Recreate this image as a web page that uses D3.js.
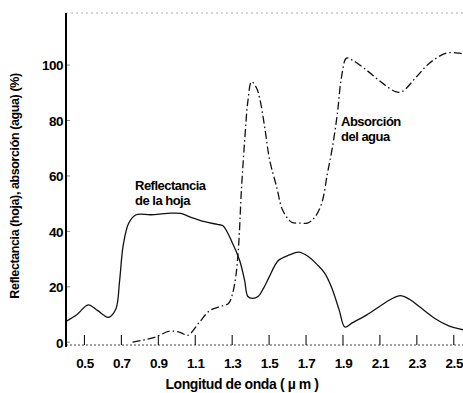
<!DOCTYPE html>
<html>
<head>
<meta charset="utf-8">
<script src="https://cdn.jsdelivr.net/npm/d3@7"></script>
<style>
  body { margin: 0; background: #fff; }
  text { font-family: "Liberation Sans", Arial, sans-serif; font-weight: bold; fill: #000; }
</style>
</head>
<body>
<svg id="chart" width="463" height="393"></svg>
<script>
// Leaf reflectance (%)
const reflWl  = [0.40, 0.46, 0.52, 0.57, 0.63, 0.67, 0.69, 0.71, 0.74, 0.78, 0.86, 0.95, 1.02, 1.08, 1.15, 1.22, 1.25, 1.30, 1.34, 1.367, 1.385, 1.41, 1.44, 1.47, 1.50, 1.55, 1.61, 1.66, 1.71, 1.76, 1.80, 1.84, 1.88, 1.91, 1.95, 2.02, 2.10, 2.16, 2.21, 2.26, 2.32, 2.40, 2.47, 2.55];
const reflVal = [7.5, 10, 13.5, 11.5, 9, 12, 22, 35, 43, 46, 46, 46.5, 46.5, 45, 43.5, 42.5, 42, 36, 29.6, 22.4, 16.5, 15.8, 16.5, 19.5, 23.5, 29.5, 31.5, 32.5, 31, 28, 25, 19.5, 11.5, 5.5, 7, 9.5, 13, 15.5, 16.8, 15.5, 12.5, 8.5, 6, 4.5];

// Water absorption (%)
const waterWl  = [0.76, 0.82, 0.89, 0.96, 1.02, 1.06, 1.12, 1.18, 1.24, 1.28, 1.30, 1.32, 1.335, 1.35, 1.37, 1.385, 1.405, 1.43, 1.449, 1.476, 1.503, 1.541, 1.573, 1.622, 1.665, 1.708, 1.746, 1.784, 1.816, 1.843, 1.870, 1.892, 1.919, 1.951, 2.027, 2.114, 2.189, 2.222, 2.297, 2.368, 2.459, 2.53, 2.55];
const waterVal = [0, 0.8, 2, 4, 3.5, 2.5, 7, 11.5, 13, 14, 17, 24, 35, 55, 75, 87, 94, 92, 88, 77.6, 65.7, 56, 47.7, 43.3, 43, 43, 45, 50, 61, 70.4, 82.7, 95.7, 102.5, 101.8, 98.2, 93.5, 90.3, 90.5, 95.7, 100.7, 104.3, 104.3, 104];

const xTicks = [0.5, 0.7, 0.9, 1.1, 1.3, 1.5, 1.7, 1.9, 2.1, 2.3, 2.5];
const yTicks = [0, 20, 40, 60, 80, 100];

const svg = d3.select('#chart');
const x = d3.scaleLinear().domain([0.4, 2.55]).range([66, 463]);
const y = d3.scaleLinear().domain([-1, 118.8]).range([345, 13]);

// Frame: faint dotted top, dotted bottom, solid left axis
svg.append('line').attr('x1', 66).attr('x2', 463).attr('y1', 13).attr('y2', 13)
  .attr('stroke', '#999').attr('stroke-width', 0.8).attr('stroke-dasharray', '2,3');
svg.append('line').attr('x1', 66).attr('x2', 463).attr('y1', 345).attr('y2', 345)
  .attr('stroke', '#444').attr('stroke-width', 1).attr('stroke-dasharray', '2,2');
svg.append('line').attr('x1', 66).attr('x2', 66).attr('y1', 13).attr('y2', 347)
  .attr('stroke', '#000').attr('stroke-width', 2);

// X axis ticks + labels
const xAxis = d3.axisBottom(x).tickValues(xTicks).tickSize(0).tickPadding(0).tickFormat(d3.format('.1f'));
const gx = svg.append('g').attr('transform', 'translate(0,345)').call(xAxis);
gx.select('.domain').remove();
gx.selectAll('text').attr('dy', 0).attr('y', 23).attr('font-size', 13.5)
  .attr('font-family', '"Liberation Sans", Arial, sans-serif').attr('font-weight', 'bold').attr('fill', '#000')
  .attr('letter-spacing', -0.4);
svg.append('g').selectAll('line').data(xTicks).enter().append('line')
  .attr('x1', d => x(d)).attr('x2', d => x(d)).attr('y1', 335).attr('y2', 345)
  .attr('stroke', '#111').attr('stroke-width', 1.1);

// Y axis labels + tiny inward ticks
const yAxis = d3.axisLeft(y).tickValues(yTicks).tickSize(0).tickPadding(0);
const gy = svg.append('g').attr('transform', 'translate(63,0)').call(yAxis);
gy.select('.domain').remove();
gy.selectAll('text').attr('x', 0).attr('dy', '0.36em').attr('font-size', 13.5)
  .attr('font-family', '"Liberation Sans", Arial, sans-serif').attr('font-weight', 'bold').attr('fill', '#000')
  .attr('letter-spacing', -0.5);
svg.append('g').selectAll('line').data(yTicks).enter().append('line')
  .attr('x1', 67).attr('x2', 70).attr('y1', d => y(d)).attr('y2', d => y(d))
  .attr('stroke', '#888').attr('stroke-width', 1);

// Curves
const line = d3.line().x(d => x(d[0])).y(d => y(d[1])).curve(d3.curveCatmullRom.alpha(0.5));
svg.append('path').datum(d3.zip(reflWl, reflVal)).attr('d', line)
  .attr('fill', 'none').attr('stroke', '#111').attr('stroke-width', 1.3);
svg.append('path').datum(d3.zip(waterWl, waterVal)).attr('d', line)
  .attr('fill', 'none').attr('stroke', '#111').attr('stroke-width', 1.3)
  .attr('stroke-dasharray', '8,3,1.5,3');

// Annotations
const note = (lines, tx, ty) => {
  const t = svg.append('text').attr('x', tx).attr('y', ty).attr('font-size', 13).attr('letter-spacing', -0.5);
  lines.forEach((s, i) => t.append('tspan').attr('x', tx).attr('dy', i ? 15 : 0).text(s));
};
note(['Reflectancia', 'de la hoja'], 135, 190);
note(['Absorción', 'del agua'], 341, 126);

// Axis titles
svg.append('text').attr('x', 242).attr('y', 389).attr('text-anchor', 'middle')
  .attr('font-size', 14).attr('letter-spacing', -0.4).text('Longitud de onda ( µ m )');
svg.append('text').attr('transform', 'translate(19,186) rotate(-90)').attr('text-anchor', 'middle')
  .attr('font-size', 12.5).attr('letter-spacing', -0.4).text('Reflectancia (hoja), absorción (agua) (%)');
</script>
</body>
</html>
